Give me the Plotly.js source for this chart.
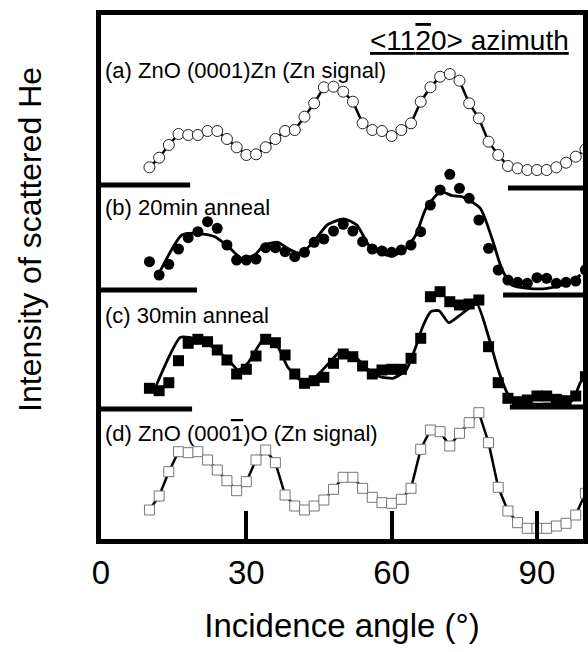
<!DOCTYPE html>
<html>
<head>
<meta charset="utf-8">
<script src="https://cdn.plot.ly/plotly-3.0.1.min.js"></script>
<style>html,body{margin:0;padding:0;background:#fff;}#chart{width:588px;height:652px;}</style>
</head>
<body>
<div id="chart"></div>
<script>
// Incidence angles (degrees) of the measured points
const angles = [10,12,14,16,18,20,22,24,26,28,30,32,34,36,38,40,42,44,46,48,50,52,54,56,58,60,62,64,66,68,70,72,74,76,78,80,82,84,86,88,90,92,94,96,98,100];

// (a) ZnO (0001)Zn, Zn signal  (arbitrary units, curves stacked)
const seriesA = [373.7,383.3,396,407,406,406,410,410,402,393.7,386,386.7,393.7,402,410,411,424.3,437.7,453.7,454.3,449.3,439.3,417.7,411,410,405,411,417.7,439.3,453.7,464.3,467,460.3,437.7,422.7,399.3,386,375,372.7,371,371,371,373.7,378.3,384.3,391.7];

// (b) 20 min anneal: measured points and fitted curve
const seriesB = [279.3,266,276.7,292,303.3,309.3,319.3,312.7,296,281,281,282,293.3,293.3,289.3,284.3,288.7,298.7,302,310,316.7,310,299.3,292,290,288.7,291,296,309.3,336,351,366.7,352.7,342.7,321,292.7,271,261,258.7,257.7,263.3,262.7,257.7,258.7,260,271];
const fitBx = [11.8,16.7,20.1,23.5,26.3,29,31.7,33.7,36.5,38.5,41.2,43.9,46.7,50.1,52.8,55.5,58.2,60.3,63,65,67.1,70.1,72.5,74.6,78.3,80.7,82.7,84.8,88.2,92.2,96.3,99];
const fitBy = [266,306,307.7,304.3,294.3,282.7,286,296,298.7,292.7,287.7,299.3,316,322,316,294.3,286.7,285.3,292.7,306,332.7,349.3,345.3,344.3,332.7,302.7,272.7,256,252.7,252.7,257.7,266];

// (c) 30 min anneal: measured points and fitted curve
const seriesC = [152.7,150.3,158.3,180.3,197.7,201.7,199.3,191,181,167,171.7,185,201.7,198.3,186,167,157.7,160.3,163.7,177.7,187,184.3,175,167,171,171.7,171.7,182.7,202.7,244.3,249.3,239.3,236,237,241,194.3,158.3,142.7,139.3,141,145,145,141.7,140.3,145,164.3];
const fitCx = [11.3,16.4,20.1,22.9,26.3,28.3,30.3,33.7,36.5,38.5,41.2,43.9,46.7,49.4,52.1,54.8,57.6,60.3,63,65,66.4,68.1,69.8,71.8,74.6,77.6,80,82,84.1,86.1,91.6,97,99];
const fitCy = [154.3,203.7,201.7,194.3,181,171,177.7,202.7,194.3,174.3,161,162.7,176,189.3,186,172.7,164.3,162.7,171,194.3,214.3,229.3,230.3,218.3,227.7,237,204.3,171,146,138.3,137,139.3,159.3];

// (d) ZnO (000-1)O, Zn signal
const seriesD = [31,45,69.3,89.3,88.3,89.3,81,71,60.3,50.3,59.3,81,91,78.3,46,35,31,35,41,51.7,63.7,63.7,52.7,43.7,38.3,37.7,41.7,52.7,91.7,111,109.3,95,107.7,118.3,128.3,98.3,53.7,30,18.3,12.7,12.7,12.7,15,17.7,26,47.7];

// baseline levels of each stacked curve: [left end angle, left level, right start angle, right level]
const baselines = [[18.4,356,84.0,353],[19.8,251,83.0,246],[18.8,132,84.4,134]];

const tickVals = [0,30,60,90];
const panelLabels = ['(a) ZnO (0001)Zn (Zn signal)','(b) 20min anneal','(c) 30min anneal','(d) ZnO (000<span style="text-decoration:overline">1</span>)O (Zn signal)'];
const panelLabelY = [471,334,226,108];

const FONT = 'Liberation Sans, Arial, Helvetica, sans-serif';

const traces = [
  {x: angles, y: seriesA, mode: 'lines+markers', line: {color: '#000', width: 2.5},
   marker: {symbol: 'circle', size: 11, color: '#fff', line: {color: '#222', width: 1}}},
  {x: fitBx, y: fitBy, mode: 'lines', line: {color: '#000', width: 2.8, shape: 'spline', smoothing: 0.6}},
  {x: angles, y: seriesB, mode: 'markers', marker: {symbol: 'circle', size: 11, color: '#000'}},
  {x: fitCx, y: fitCy, mode: 'lines', line: {color: '#000', width: 2.8, shape: 'spline', smoothing: 0.5}},
  {x: angles, y: seriesC, mode: 'markers', marker: {symbol: 'square', size: 11, color: '#000'}},
  {x: angles, y: seriesD, mode: 'lines+markers', line: {color: '#000', width: 2.5},
   marker: {symbol: 'square', size: 10, color: '#fff', line: {color: '#777', width: 1}}}
];

const shapes = [];
baselines.forEach(b => {
  shapes.push({type: 'line', xref: 'x', yref: 'y', x0: 0, x1: b[0], y0: b[1], y1: b[1], line: {color: '#000', width: 5}});
  shapes.push({type: 'line', xref: 'x', yref: 'y', x0: b[2], x1: 100, y0: b[3], y1: b[3], line: {color: '#000', width: 5}});
});

const annotations = panelLabels.map((t, i) => ({
  text: t, xref: 'x', yref: 'y', x: 0.4, y: panelLabelY[i], xanchor: 'left', yanchor: 'middle',
  showarrow: false, font: {family: FONT, size: 22, color: '#000'}
}));
annotations.push({
  text: '<u>&lt;11<span style="text-decoration:overline">2</span>0&gt; azimuth</u>',
  xref: 'x', yref: 'y', x: 97, y: 501, xanchor: 'right', yanchor: 'middle', showarrow: false,
  font: {family: FONT, size: 28, color: '#000'}
});
annotations.push({
  text: 'Intensity of scattered He', xref: 'paper', yref: 'paper', x: -0.147, y: 0.571,
  xanchor: 'center', yanchor: 'middle', textangle: -90, showarrow: false,
  font: {family: FONT, size: 32, color: '#000'}
});

const layout = {
  width: 588, height: 652,
  margin: {l: 101, r: 5, t: 15, b: 113},
  paper_bgcolor: '#fff', plot_bgcolor: '#fff',
  showlegend: false,
  font: {family: FONT, color: '#000'},
  xaxis: {
    range: [0, 99.5], showgrid: false, zeroline: false,
    showline: true, linecolor: '#000', linewidth: 5, mirror: true,
    ticks: 'inside', ticklen: 28, tickwidth: 4, tickcolor: '#000',
    tickmode: 'array', tickvals: tickVals, ticktext: tickVals.map(String),
    tickfont: {family: FONT, size: 33, color: '#000'},
    title: {text: 'Incidence angle (°)', font: {family: FONT, size: 33, color: '#000'}, standoff: 26}
  },
  yaxis: {
    range: [2, 526], showgrid: false, zeroline: false,
    showline: true, linecolor: '#000', linewidth: 5, mirror: true,
    ticks: '', showticklabels: false
  },
  shapes: shapes,
  annotations: annotations
};

Plotly.newPlot('chart', traces, layout, {displayModeBar: false, staticPlot: true});
</script>
</body>
</html>
